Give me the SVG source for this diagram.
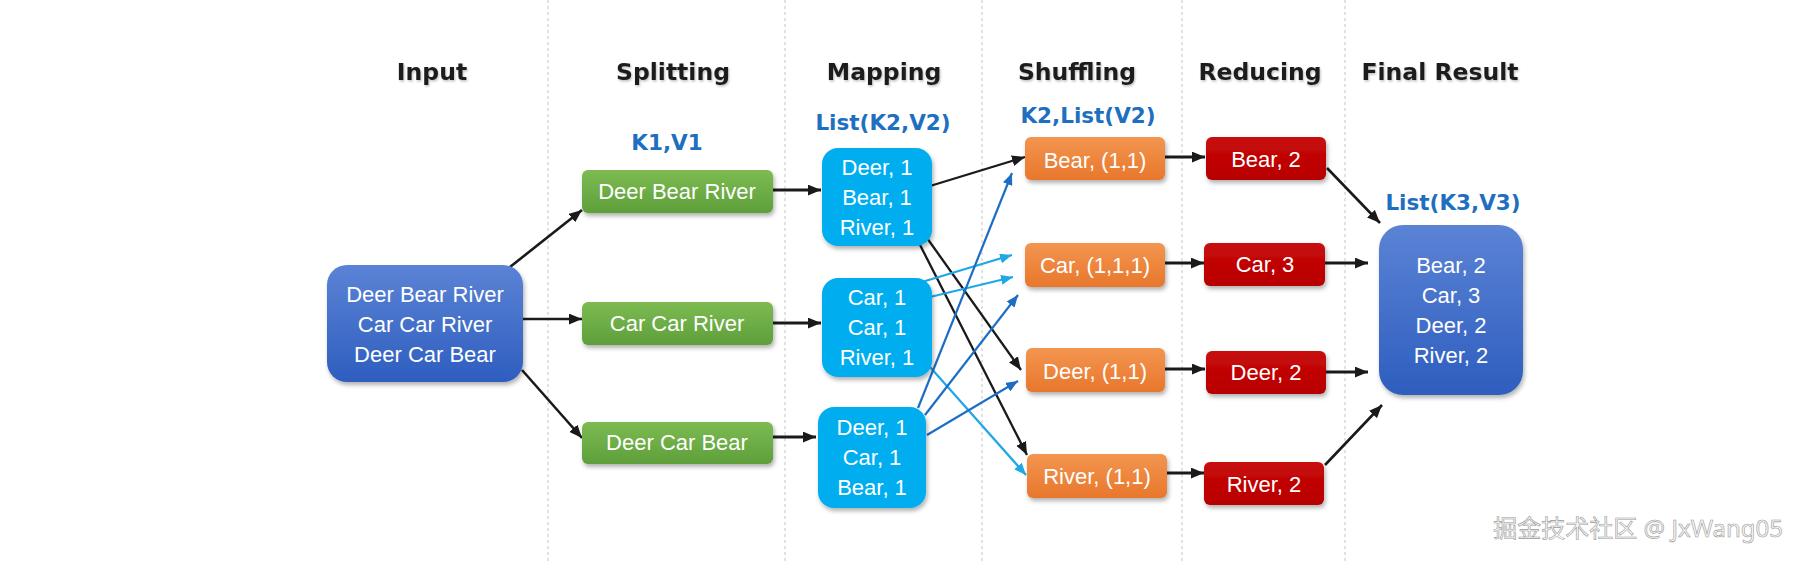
<svg xmlns="http://www.w3.org/2000/svg" width="1801" height="561" viewBox="0 0 1801 561">
<defs>
<linearGradient id="gBlue" x1="0" y1="0" x2="0" y2="1"><stop offset="0" stop-color="#5b83d5"/><stop offset="1" stop-color="#2e5ebf"/></linearGradient>
<linearGradient id="gGreen" x1="0" y1="0" x2="0" y2="1"><stop offset="0" stop-color="#7dbb52"/><stop offset="1" stop-color="#5e9f3a"/></linearGradient>
<linearGradient id="gOrange" x1="0" y1="0" x2="0" y2="1"><stop offset="0" stop-color="#f39550"/><stop offset="1" stop-color="#e8772c"/></linearGradient>
<linearGradient id="gRed" x1="0" y1="0" x2="0" y2="1"><stop offset="0" stop-color="#c80a0a"/><stop offset="1" stop-color="#b80000"/></linearGradient>
<filter id="sh" x="-20%" y="-20%" width="140%" height="150%"><feDropShadow dx="1.5" dy="3" stdDeviation="2" flood-color="#000" flood-opacity="0.3"/></filter>
<filter id="tsh" x="-10%" y="-20%" width="120%" height="150%"><feDropShadow dx="1" dy="1.5" stdDeviation="1" flood-color="#000" flood-opacity="0.25"/></filter>
<marker id="aK" viewBox="0 0 12 10" refX="12" refY="5" markerWidth="13" markerHeight="11" markerUnits="userSpaceOnUse" orient="auto"><path d="M0,0 L12,5 L0,10 z" fill="#1a1a1a"/></marker>
<marker id="aD" viewBox="0 0 12 10" refX="12" refY="5" markerWidth="12" markerHeight="10" markerUnits="userSpaceOnUse" orient="auto"><path d="M0,0 L12,5 L0,10 z" fill="#1c6ec4"/></marker>
<marker id="aL" viewBox="0 0 12 10" refX="12" refY="5" markerWidth="12" markerHeight="10" markerUnits="userSpaceOnUse" orient="auto"><path d="M0,0 L12,5 L0,10 z" fill="#1ea8e6"/></marker>
</defs>
<style>
.head{font-family:"DejaVu Sans",Verdana,sans-serif;font-weight:bold;font-size:23.5px;fill:#1e1e1e;text-anchor:middle}
.lab{font-family:"DejaVu Sans",Verdana,sans-serif;font-weight:bold;font-size:21.5px;fill:#1f6fc0;text-anchor:middle}
.t{font-family:"Liberation Sans",Arial,sans-serif;font-size:22px;fill:#fff;text-anchor:middle}
.dash{stroke:#c4c4c4;stroke-width:1;stroke-dasharray:3 3}
.k{stroke:#1a1a1a;stroke-width:2.6;fill:none;marker-end:url(#aK)}
.d{stroke:#1c6ec4;stroke-width:2.2;fill:none;marker-end:url(#aD)}
.l{stroke:#1ea8e6;stroke-width:2.2;fill:none;marker-end:url(#aL)}
.blue{fill:url(#gBlue);filter:url(#sh)}
.green{fill:url(#gGreen);filter:url(#sh)}
.cyan{fill:#00aeef;filter:url(#sh)}
.orange{fill:url(#gOrange);filter:url(#sh)}
.red{fill:url(#gRed);filter:url(#sh)}
</style>
<rect width="1801" height="561" fill="#fff"/>
<g id="separators">
<line class="dash" x1="548" y1="0" x2="548" y2="561"/>
<line class="dash" x1="785" y1="0" x2="785" y2="561"/>
<line class="dash" x1="982" y1="0" x2="982" y2="561"/>
<line class="dash" x1="1182" y1="0" x2="1182" y2="561"/>
<line class="dash" x1="1345" y1="0" x2="1345" y2="561"/>
</g>
<g id="headings" filter="url(#tsh)">
<text class="head" x="432" y="80">Input</text>
<text class="head" x="673" y="80">Splitting</text>
<text class="head" x="884" y="80">Mapping</text>
<text class="head" x="1077" y="80">Shuffling</text>
<text class="head" x="1260" y="80">Reducing</text>
<text class="head" x="1440" y="80">Final Result</text>
</g>
<g id="labels">
<text class="lab" x="667" y="150">K1,V1</text>
<text class="lab" x="883" y="130">List(K2,V2)</text>
<text class="lab" x="1088" y="123">K2,List(V2)</text>
<text class="lab" x="1453" y="210">List(K3,V3)</text>
</g>
<g id="connectors">
<line class="k" x1="510" y1="267" x2="582" y2="210"/>
<line class="k" x1="523" y1="319" x2="582" y2="319"/>
<line class="k" x1="522" y1="370" x2="582" y2="438"/>
<line class="k" style="stroke-width:3" x1="773" y1="190" x2="821" y2="190"/>
<line class="k" style="stroke-width:3" x1="773" y1="323" x2="821" y2="323"/>
<line class="k" style="stroke-width:3" x1="773" y1="437" x2="816" y2="437"/>
<line class="k" style="stroke-width:2.3" x1="930" y1="186" x2="1025" y2="157"/>
<line class="k" style="stroke-width:2.3" x1="917" y1="239" x2="1027" y2="455"/>
<line class="k" style="stroke-width:2.3" x1="927" y1="238" x2="1021" y2="370"/>
<line class="l" x1="922" y1="282" x2="1012" y2="255"/>
<line class="l" x1="930" y1="297" x2="1013" y2="277"/>
<line class="l" x1="930" y1="367" x2="1026" y2="475"/>
<line class="d" x1="918" y1="408" x2="1012" y2="173"/>
<line class="d" x1="925" y1="415" x2="1018" y2="295"/>
<line class="d" x1="927" y1="435" x2="1018" y2="381"/>
<line class="k" style="stroke-width:3" x1="1165" y1="157" x2="1205" y2="157"/>
<line class="k" style="stroke-width:3" x1="1165" y1="263" x2="1204" y2="263"/>
<line class="k" style="stroke-width:3" x1="1165" y1="369" x2="1205" y2="369"/>
<line class="k" style="stroke-width:3" x1="1167" y1="473" x2="1204" y2="473"/>
<line class="k" x1="1327" y1="168" x2="1380" y2="223"/>
<line class="k" style="stroke-width:3" x1="1325" y1="263" x2="1368" y2="263"/>
<line class="k" style="stroke-width:3" x1="1326" y1="372" x2="1368" y2="372"/>
<line class="k" x1="1325" y1="465" x2="1382" y2="405"/>
</g>
<g id="input">
<rect class="blue" x="327" y="265" width="196" height="117" rx="20"/>
<text class="t" x="425" y="302">Deer Bear River</text>
<text class="t" x="425" y="332">Car Car River</text>
<text class="t" x="425" y="362">Deer Car Bear</text>
</g>
<g id="split1"><rect class="green" x="582" y="170" width="191" height="43" rx="6"/><text class="t" x="677" y="199">Deer Bear River</text></g>
<g id="split2"><rect class="green" x="582" y="302" width="191" height="43" rx="6"/><text class="t" x="677" y="331">Car Car River</text></g>
<g id="split3"><rect class="green" x="582" y="422" width="191" height="42" rx="6"/><text class="t" x="677" y="450">Deer Car Bear</text></g>
<g id="map1"><rect class="cyan" x="822" y="148" width="110" height="98" rx="16"/>
<text class="t" x="877" y="175">Deer, 1</text><text class="t" x="877" y="205">Bear, 1</text><text class="t" x="877" y="235">River, 1</text></g>
<g id="map2"><rect class="cyan" x="822" y="278" width="110" height="99" rx="16"/>
<text class="t" x="877" y="305">Car, 1</text><text class="t" x="877" y="335">Car, 1</text><text class="t" x="877" y="365">River, 1</text></g>
<g id="map3"><rect class="cyan" x="818" y="407" width="108" height="101" rx="16"/>
<text class="t" x="872" y="435">Deer, 1</text><text class="t" x="872" y="465">Car, 1</text><text class="t" x="872" y="495">Bear, 1</text></g>
<g id="shuf1"><rect class="orange" x="1025" y="137" width="140" height="43" rx="6"/><text class="t" x="1095" y="168">Bear, (1,1)</text></g>
<g id="shuf2"><rect class="orange" x="1025" y="243" width="140" height="44" rx="6"/><text class="t" x="1095" y="273">Car, (1,1,1)</text></g>
<g id="shuf3"><rect class="orange" x="1026" y="348" width="139" height="44" rx="6"/><text class="t" x="1095" y="379">Deer, (1,1)</text></g>
<g id="shuf4"><rect class="orange" x="1027" y="454" width="140" height="44" rx="6"/><text class="t" x="1097" y="484">River, (1,1)</text></g>
<g id="red1"><rect class="red" x="1206" y="137" width="120" height="43" rx="6"/><text class="t" x="1266" y="167">Bear, 2</text></g>
<g id="red2"><rect class="red" x="1204" y="243" width="121" height="43" rx="6"/><text class="t" x="1265" y="272">Car, 3</text></g>
<g id="red3"><rect class="red" x="1206" y="351" width="120" height="43" rx="6"/><text class="t" x="1266" y="380">Deer, 2</text></g>
<g id="red4"><rect class="red" x="1204" y="462" width="120" height="43" rx="6"/><text class="t" x="1264" y="492">River, 2</text></g>
<g id="final"><rect class="blue" x="1379" y="225" width="144" height="170" rx="24"/>
<text class="t" x="1451" y="273">Bear, 2</text><text class="t" x="1451" y="303">Car, 3</text><text class="t" x="1451" y="333">Deer, 2</text><text class="t" x="1451" y="363">River, 2</text></g>
<text x="1783" y="537" text-anchor="end" style="font-family:'Noto Sans','Noto Sans CJK SC',sans-serif;font-size:24px;fill:#f7f7f7;stroke:#9a9a9a;stroke-width:0.6">掘金技术社区 @ JxWang05</text>
</svg>
